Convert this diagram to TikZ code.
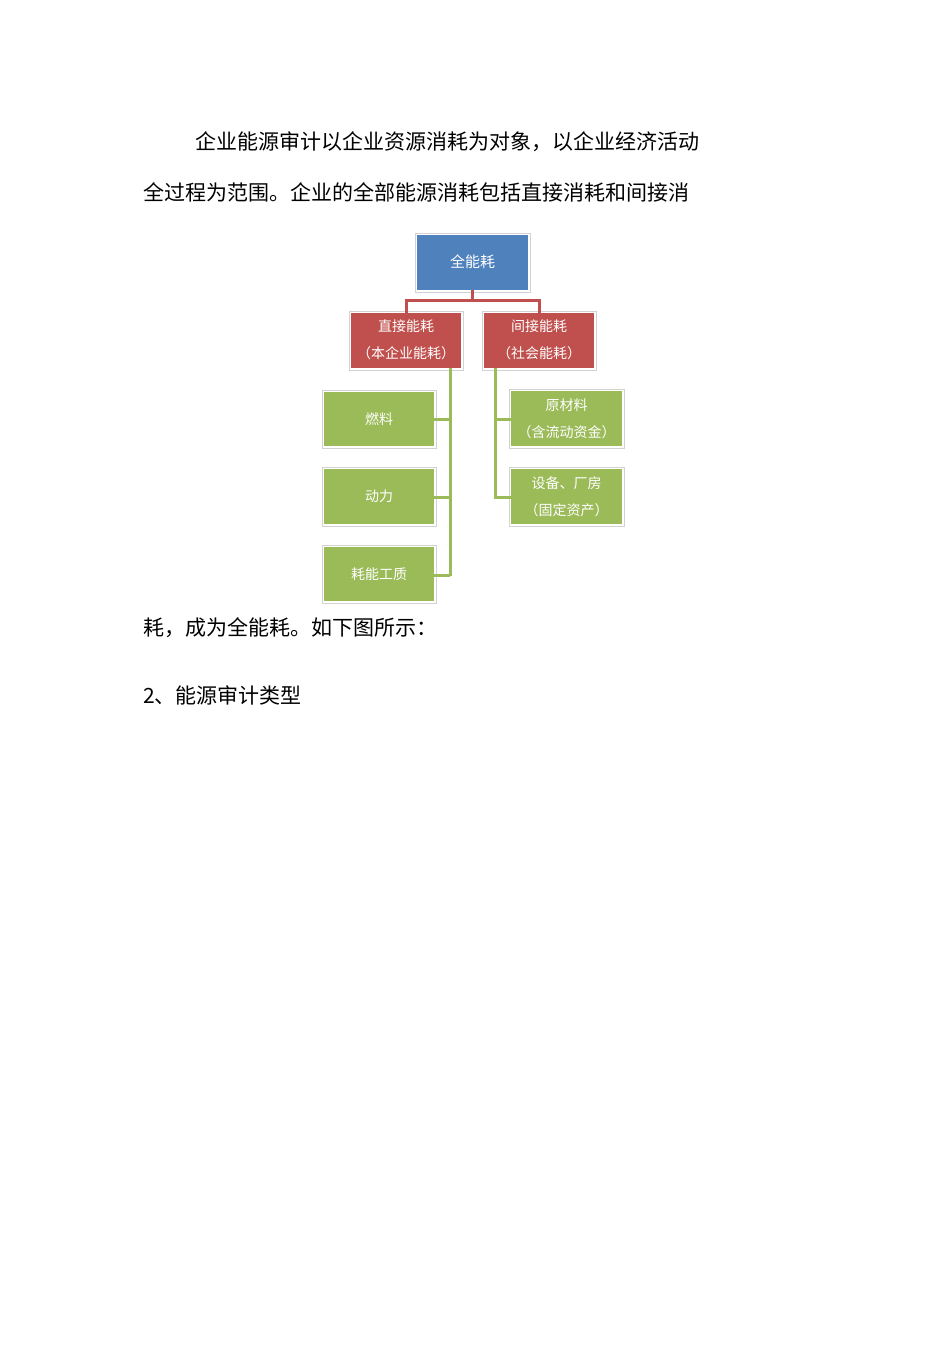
\documentclass[tikz,border=0pt]{standalone}
\usepackage{fontspec}
\setmainfont{Noto Sans CJK SC}
\begin{document}
\begin{tikzpicture}[x=1pt,y=-1pt,
 bx/.style={draw=gray!40,line width=1pt,inner sep=0pt,text=white,font=\fontsize{14}{18}\selectfont,align=center,double distance=0pt},
 txt/.style={anchor=west,inner sep=0pt,font=\fontsize{21}{24}\selectfont}]
\useasboundingbox (0,0) rectangle (950,1345);
\definecolor{cb}{HTML}{4F81BD}\definecolor{cr}{HTML}{C0504D}\definecolor{cg}{HTML}{9BBB59}
\tikzset{box/.style n args={5}{}}
\newcommand\mybox[6]{\draw[gray!35,line width=0.8pt] (#2-2,#3-2) rectangle (#4+2,#5+2);
 \fill[#6] (#2,#3) rectangle (#4,#5);
 \node[inner sep=0pt,text=white,font=\fontsize{14}{20}\selectfont,align=center] (#1) at ({(#2+#4)/2},{(#3+#5)/2}) {#1text};}
% boxes
\draw[gray!35,line width=0.8pt] (415,233) rectangle (530,292);
\fill[cb] (417,235) rectangle (528,290); \node[inner sep=0pt,text=white,font=\fontsize{15}{20}\selectfont] (top) at (472.5,262) {全能耗};
\draw[gray!35,line width=0.8pt] (349,311) rectangle (463,370);
\fill[cr] (351,313) rectangle (461,368); \node[inner sep=0pt,text=white,font=\fontsize{14}{27}\selectfont,align=center] (dir) at (406,340) {直接能耗\\（本企业能耗）};
\draw[gray!35,line width=0.8pt] (482,311) rectangle (596,370);
\fill[cr] (484,313) rectangle (594,368); \node[inner sep=0pt,text=white,font=\fontsize{14}{27}\selectfont,align=center] (ind) at (539,340) {间接能耗\\（社会能耗）};
\foreach \n/\a/\b/\t in {f/392/446/燃料,p/469/524/动力,w/547/601/耗能工质}{
 \draw[gray!35,line width=0.8pt] (322,\a-2) rectangle (436,\b+2);
 \fill[cg] (324,\a) rectangle (434,\b);
 \node[inner sep=0pt,text=white,font=\fontsize{14}{20}\selectfont] (\n) at (379,{(\a+\b)/2}) {\t};}
\foreach \n/\a/\b/\t in {m/391/446/原材料\\（含流动资金）,e/469/524/设备、厂房\\（固定资产）}{
 \draw[gray!35,line width=0.8pt] (509,\a-2) rectangle (624,\b+2);
 \fill[cg] (511,\a) rectangle (622,\b);
 \node[inner sep=0pt,text=white,font=\fontsize{14}{27}\selectfont,align=center] (\n) at (566.5,{(\a+\b)/2}) {\t};}
% connectors
\draw[cr,line width=3pt] (472.5,290) -- (472.5,300) (406,313) |- (472.5,300) -| (539,313);
\draw[cg,line width=3pt] (450,368) -- (450,576) (450,419) -- (434,419) (450,497) -- (434,497) (450,575) -- (434,575);
\draw[cg,line width=3pt] (495,368) |- (511,497) (495,419) -- (511,419);
% text
\node[txt] (l1) at (195,142) {企业能源审计以企业资源消耗为对象，以企业经济活动};
\node[txt] (l2) at (143,192) {全过程为范围。企业的全部能源消耗包括直接消耗和间接消};
\node[txt] (l3) at (143,628) {耗，成为全能耗。如下图所示：};
\node[txt] (l4) at (143,695) {2、能源审计类型};
\end{tikzpicture}
\end{document}
